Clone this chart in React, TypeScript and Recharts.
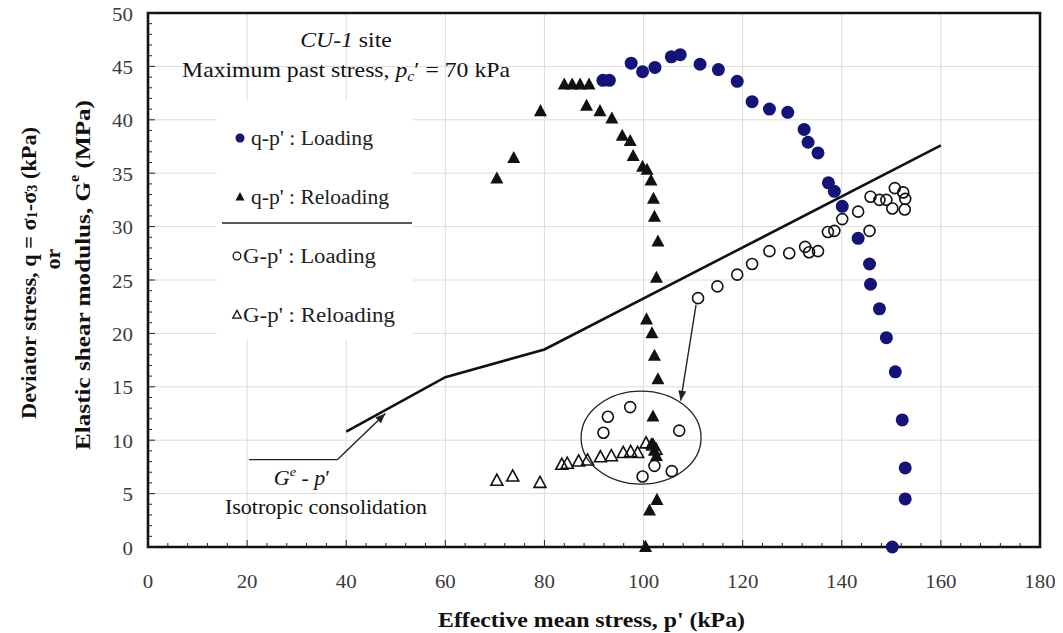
import React from 'react';
import {
  ScatterChart,
  Scatter,
  XAxis,
  YAxis,
  CartesianGrid,
  ReferenceArea,
  ReferenceLine,
  ReferenceDot,
} from 'recharts';

// q-p' : Loading (kPa)
const qLoadP = [91.8, 93.1, 97.5, 99.8, 102.3, 105.6, 107.4, 111.4, 115.1, 118.9, 121.9, 125.4, 129.1, 132.4, 133.2, 135.2, 137.3, 138.5, 140.1, 143.3, 145.6, 145.8, 147.6, 149.0, 150.8, 152.2, 152.8, 152.8, 150.2];
const qLoadQ = [43.7, 43.7, 45.3, 44.5, 44.9, 45.9, 46.1, 45.2, 44.7, 43.6, 41.7, 41.0, 40.7, 39.1, 37.9, 36.9, 34.1, 33.3, 31.9, 28.9, 26.5, 24.6, 22.3, 19.6, 16.4, 11.9, 7.4, 4.5, 0];

// q-p' : Reloading
const qReloadP = [70.4, 73.8, 79.2, 84.0, 85.6, 87.2, 89.0, 88.5, 91.2, 93.6, 95.7, 97.3, 97.9, 99.8, 100.7, 101.5, 102.0, 102.2, 102.9, 102.6, 100.6, 101.7, 102.2, 102.9, 101.9, 101.6, 102.2, 102.6, 102.7, 101.2, 100.4];
const qReloadQ = [34.5, 36.4, 40.8, 43.3, 43.3, 43.3, 43.3, 41.3, 40.8, 40.1, 38.5, 38.0, 36.6, 35.6, 35.3, 34.3, 32.6, 30.9, 28.6, 25.2, 21.3, 20.0, 17.9, 15.7, 12.2, 9.6, 9.0, 8.5, 4.4, 3.4, 0];

// G-p' : Loading (MPa)
const gLoadP = [91.9, 92.8, 97.3, 99.8, 102.2, 105.7, 107.2, 111.0, 114.9, 118.9, 121.9, 125.4, 129.4, 132.6, 133.4, 135.2, 137.2, 138.5, 140.1, 143.3, 145.6, 145.8, 147.6, 149.0, 150.2, 150.7, 152.4, 152.8, 152.7];
const gLoadG = [10.7, 12.2, 13.1, 6.6, 7.6, 7.1, 10.9, 23.3, 24.4, 25.5, 26.5, 27.7, 27.5, 28.1, 27.6, 27.7, 29.5, 29.6, 30.7, 31.4, 29.6, 32.8, 32.5, 32.5, 31.7, 33.6, 33.2, 32.6, 31.6];

// G-p' : Reloading
const gReloadP = [70.4, 73.6, 79.1, 83.5, 84.6, 86.9, 88.7, 91.3, 93.5, 95.9, 97.4, 98.8, 100.5, 101.9, 102.5];
const gReloadG = [6.2, 6.6, 6.0, 7.7, 7.8, 8.0, 8.1, 8.4, 8.5, 8.8, 8.9, 8.8, 9.7, 9.5, 9.1];

// Ge - p' isotropic consolidation
const geP = [40, 60, 80, 160];
const geG = [10.8, 15.9, 18.5, 37.6];

const xTicks = Array.from({ length: 46 }, (_, i) => i * 4);
const yTicks = Array.from({ length: 51 }, (_, i) => i);
const xGrid = [0, 20, 40, 60, 80, 100, 120, 140, 160, 180];
const yGrid = [0, 5, 10, 15, 20, 25, 30, 35, 40, 45, 50];

const zip = (xs: number[], ys: number[]) => xs.map((x, i) => ({ x, y: ys[i] }));

const qLoad = zip(qLoadP, qLoadQ);
const qReload = zip(qReloadP, qReloadQ);
const gLoad = zip(gLoadP, gLoadG);
const gReload = zip(gReloadP, gReloadG);
const geLine = zip(geP, geG);

const FONT = '"Liberation Serif", "Times New Roman", Times, serif';
const NAVY = '#13137a';

const tri = (cx: number, cy: number, s: number) =>
  `${cx},${cy - s * 1.1} ${cx - s},${cy + s * 0.75} ${cx + s},${cy + s * 0.75}`;

const BlueDot = (p: any) => <circle cx={p.cx} cy={p.cy} r={6.5} fill={NAVY} />;
const BlackTri = (p: any) => <polygon points={tri(p.cx, p.cy, 6.5)} fill="#111" />;
const OpenDot = (p: any) => (
  <circle cx={p.cx} cy={p.cy} r={5.5} fill="none" stroke="#111" strokeWidth={1.6} />
);
const OpenTri = (p: any) => (
  <polygon points={tri(p.cx, p.cy, 6)} fill="none" stroke="#111" strokeWidth={1.6} />
);
const NoDot = () => <g />;

const YTick = (props: any) => {
  const { x, y, payload } = props;
  const v = payload.value;
  const major = v % 5 === 0;
  return (
    <g>
      <line x1={x} y1={y} x2={x + (major ? 7 : 4)} y2={y} stroke="#222" strokeWidth={1} />
      {major && (
        <g transform={`translate(${x - 15},${y + 1}) scale(1.1,1)`}>
          <text x={0} y={0} textAnchor="end" dominantBaseline="central" fontSize={19} fill="#3a3a3a" style={{ fontFamily: FONT }}>
            {v}
          </text>
        </g>
      )}
    </g>
  );
};

const XTick = (props: any) => {
  const { x, y, payload } = props;
  const v = payload.value;
  const major = v % 20 === 0;
  return (
    <g>
      <line x1={x} y1={y} x2={x} y2={y - (major ? 7 : 4)} stroke="#222" strokeWidth={1} />
      {major && (
        <g transform={`translate(${x},${y + 34}) scale(1.1,1)`}>
          <text x={0} y={0} textAnchor="middle" dominantBaseline="central" fontSize={19} fill="#3a3a3a" style={{ fontFamily: FONT }}>
            {v}
          </text>
        </g>
      )}
    </g>
  );
};

const arrowShape = (head: boolean) => (props: any) => {
  const { x1, y1, x2, y2 } = props;
  const ang = Math.atan2(y2 - y1, x2 - x1);
  const L = 10;
  const W = 4;
  const bx = x2 - L * Math.cos(ang);
  const by = y2 - L * Math.sin(ang);
  const px = -Math.sin(ang) * W;
  const py = Math.cos(ang) * W;
  return (
    <g>
      <line x1={x1} y1={y1} x2={x2} y2={y2} stroke="#222" strokeWidth={1.4} />
      {head && (
        <polygon points={`${x2},${y2} ${bx + px},${by + py} ${bx - px},${by - py}`} fill="#222" />
      )}
    </g>
  );
};

const Ellipse = (p: any) => (
  <ellipse cx={p.cx} cy={p.cy} rx={60} ry={46.5} fill="none" stroke="#222" strokeWidth={1.3} />
);

const legendItems = [
  { label: "q-p' : Loading", marker: 'blueDot', mx: 232, tx: 243, len: 122 },
  { label: "q-p' : Reloading", marker: 'blackTri', mx: 232, tx: 243, len: 138 },
  { label: "G-p' : Loading", marker: 'openDot', mx: 229, tx: 235, len: 133 },
  { label: "G-p' : Reloading", marker: 'openTri', mx: 229, tx: 235, len: 152 },
];

const legendMarker = (m: string, cx: number, cy: number) => {
  if (m === 'blueDot') return <circle cx={cx} cy={cy} r={4.5} fill={NAVY} />;
  if (m === 'blackTri') return <polygon points={tri(cx, cy, 4.5)} fill="#111" />;
  if (m === 'openDot') return <circle cx={cx} cy={cy} r={3.8} fill="none" stroke="#111" strokeWidth={1.3} />;
  return <polygon points={tri(cx, cy, 4.2)} fill="none" stroke="#111" strokeWidth={1.3} />;
};

const Overlay = () => {
  const rows = [130, 189, 248, 307];
  return (
    <svg
      width={1055}
      height={625}
      style={{ position: 'absolute', left: 0, top: 0, pointerEvents: 'none', fontFamily: FONT }}
    >
      {/* axis titles */}
      <g fontWeight="bold" fontSize={22} fill="#111">
        <text
          transform="translate(20,265) rotate(-90)"
          textAnchor="middle"
          dominantBaseline="central"
          textLength={292}
          lengthAdjust="spacingAndGlyphs"
        >
          Deviator stress, q = σ<tspan fontSize={14} dy={4}>1</tspan>
          <tspan dy={-4}>-σ</tspan>
          <tspan fontSize={14} dy={4}>3</tspan>
          <tspan dy={-4}> (kPa)</tspan>
        </text>
        <text transform="translate(44,251) rotate(-90)" textAnchor="middle" dominantBaseline="central">
          or
        </text>
        <text
          transform="translate(74,267) rotate(-90)"
          textAnchor="middle"
          dominantBaseline="central"
          textLength={350}
          lengthAdjust="spacingAndGlyphs"
        >
          Elastic shear modulus, G<tspan fontSize={14} dy={-8}>e</tspan>
          <tspan dy={8}> (MPa)</tspan>
        </text>
        <text
          x={430}
          y={611}
          dominantBaseline="central"
          textLength={307}
          lengthAdjust="spacingAndGlyphs"
        >
          Effective mean stress, p' (kPa)
        </text>
      </g>

      {/* site info */}
      <g fontSize={21} fill="#111">
        <g transform="translate(338,39) scale(1.13,1)">
          <text x={0} y={0} textAnchor="middle">
            <tspan fontStyle="italic">CU-1</tspan> site
          </text>
        </g>
        <g transform="translate(338,69) scale(1.13,1)">
          <text x={0} y={0} textAnchor="middle">
            Maximum past stress, <tspan fontStyle="italic">p</tspan>
            <tspan fontStyle="italic" fontSize={14} dy={4}>c</tspan>
            <tspan dy={-4}>′ = 70 kPa</tspan>
          </text>
        </g>
      </g>

      {/* legend */}
      <rect x={209} y={92} width={196} height={240} fill="#fff" />
      {legendItems.map((it, i) => (
        <g key={it.label}>
          {legendMarker(it.marker, it.mx, rows[i])}
          <text
            x={it.tx}
            y={rows[i]}
            dominantBaseline="central"
            fontSize={20}
            fill="#222"
            textLength={it.len}
            lengthAdjust="spacingAndGlyphs"
          >
            {it.label}
          </text>
        </g>
      ))}
      <line x1={214} y1={215} x2={404} y2={215} stroke="#222" strokeWidth={1.3} />

      {/* Ge - p' label */}
      <g fontSize={20} fill="#111">
        <g transform="translate(294,470) scale(1.1,1)">
          <text x={0} y={0} textAnchor="middle" dominantBaseline="central">
            <tspan fontStyle="italic">G</tspan>
            <tspan fontStyle="italic" fontSize={13} dy={-7}>e</tspan>
            <tspan dy={7}> - </tspan>
            <tspan fontStyle="italic">p</tspan>′
          </text>
        </g>
        <g transform="translate(318,499) scale(1.1,1)">
          <text x={0} y={0} textAnchor="middle" dominantBaseline="central">
            Isotropic consolidation
          </text>
        </g>
      </g>
    </svg>
  );
};

export default function App() {
  return (
    <div style={{ position: 'relative', width: 1055, height: 625, background: '#fff', fontFamily: FONT }}>
      <ScatterChart width={1055} height={625} margin={{ top: 5, right: 23, left: 0, bottom: 26 }}>
        <CartesianGrid stroke="#dcdcdc" strokeWidth={1} verticalValues={xGrid} horizontalValues={yGrid} />
        <XAxis
          type="number"
          dataKey="x"
          domain={[0, 180]}
          ticks={xTicks}
          interval={0}
          height={60}
          axisLine={false}
          tickLine={false}
          tickSize={0}
          tickMargin={0}
          tick={<XTick />}
        />
        <YAxis
          type="number"
          dataKey="y"
          domain={[0, 50]}
          ticks={yTicks}
          interval={0}
          width={140}
          axisLine={false}
          tickLine={false}
          tickSize={0}
          tickMargin={0}
          tick={<YTick />}
        />
        <Scatter data={geLine} line={{ stroke: '#111', strokeWidth: 2.6 }} shape={NoDot} isAnimationActive={false} />
        <Scatter data={gReload} shape={OpenTri} isAnimationActive={false} />
        <Scatter data={gLoad} shape={OpenDot} isAnimationActive={false} />
        <Scatter data={qReload} shape={BlackTri} isAnimationActive={false} />
        <Scatter data={qLoad} shape={BlueDot} isAnimationActive={false} />
        <ReferenceDot x={99.5} y={10.24} shape={Ellipse} />
        <ReferenceLine segment={[{ x: 20.4, y: 8.18 }, { x: 38.2, y: 8.18 }]} shape={arrowShape(false)} />
        <ReferenceLine segment={[{ x: 38.2, y: 8.18 }, { x: 47.9, y: 12.5 }]} shape={arrowShape(true)} />
        <ReferenceLine segment={[{ x: 110.6, y: 22.7 }, { x: 107.5, y: 13.7 }]} shape={arrowShape(true)} />
        <ReferenceArea x1={0} x2={180} y1={0} y2={50} fill="none" stroke="#111" strokeWidth={2.6} />
      </ScatterChart>
      <Overlay />
    </div>
  );
}
